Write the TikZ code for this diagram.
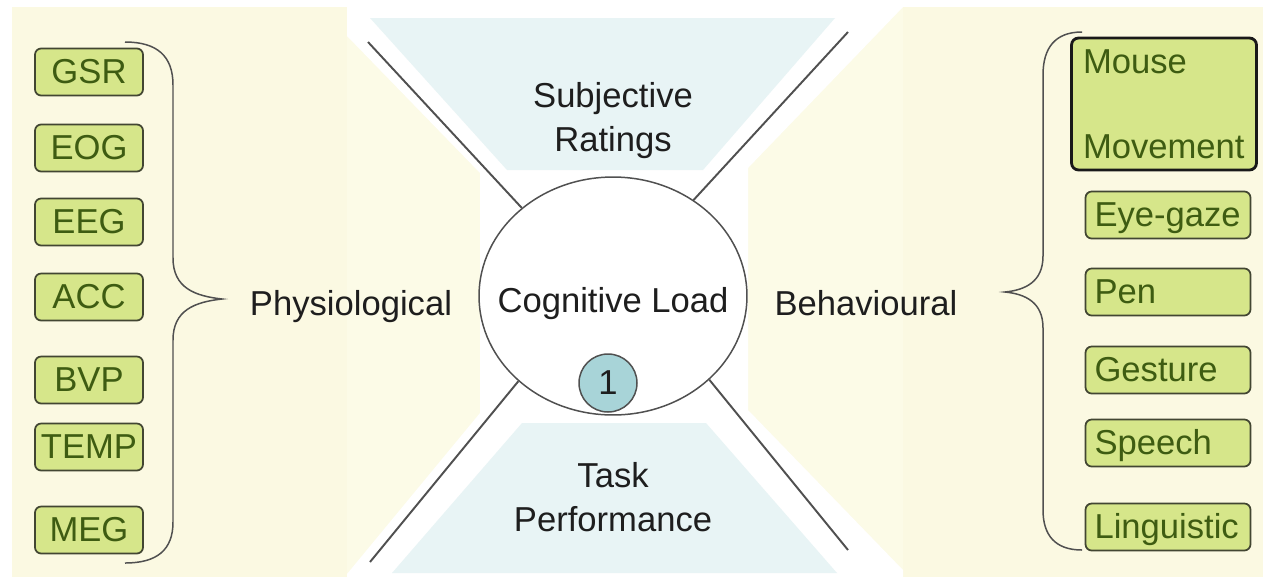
\documentclass[tikz,border=0pt]{standalone}
\usepackage{fontspec}
\setmainfont{Liberation Sans}
\usetikzlibrary{shapes.geometric}

\definecolor{creamout}{RGB}{251,249,226}
\definecolor{creamin}{RGB}{252,251,231}
\definecolor{paleblue}{RGB}{232,244,245}
\definecolor{badgeblue}{RGB}{168,212,216}
\definecolor{boxfill}{RGB}{214,230,138}
\definecolor{boxline}{RGB}{66,70,50}
\definecolor{boxtext}{RGB}{62,92,18}
\definecolor{ink}{RGB}{30,30,30}
\definecolor{rule}{RGB}{80,80,80}

\begin{document}
\begin{tikzpicture}[x=0.02cm, y=-0.02cm,
  every node/.style={font=\fontsize{19.7}{25}\selectfont, text=ink},
  sensor/.style={draw=boxline, fill=boxfill, text=boxtext, line width=1pt,
    rounded corners=3.5pt, inner sep=0pt, minimum height=0.94cm,
    text height=0.58cm, text depth=0.12cm},
  leftbox/.style={sensor, minimum width=2.16cm},
  rightbox/.style={sensor, align=left, text width=2.94cm, inner xsep=0.18cm},
  mousebox/.style={draw=black!90, fill=boxfill, text=boxtext, line width=1.6pt,
    rounded corners=4pt, align=left, minimum width=3.7cm, minimum height=2.64cm,
    text width=3.24cm, inner xsep=0.23cm},
  spoke/.style={draw=rule, line width=1.1pt},
  brace/.style={draw=rule, line width=0.85pt}]
  \useasboundingbox (0,0) rectangle (1263,582);

  \fill[creamout] (12,7) rectangle (1263,577);
  \fill[creamin] (347,7) rectangle (903,577);
  \fill[white] (347,0) -- (903,0) -- (903,7) -- (748,168) -- (748,410) -- (903,570)
    -- (903,582) -- (347,582) -- (347,574) -- (480,413) -- (480,173) -- (347,36) -- cycle;
  \fill[paleblue] (370,18) -- (835,18) -- (703,170) -- (507,170) -- cycle;
  \fill[paleblue] (522,423) -- (706,423) -- (837,573) -- (392,573) -- cycle;

  \node (subj) at (613,121) [align=center] {Subjective\\Ratings};
  \node (task) at (613,497) [align=center] {Task\\Performance};

  \node[draw=rule, fill=white, line width=0.85pt, ellipse, inner sep=0pt,
    minimum width=5.36cm, minimum height=4.76cm] (load) at (613,296) {};
  \node[anchor=base] (loadtext) at (613,312) {Cognitive Load};
  \node[draw=rule, fill=badgeblue, line width=0.85pt, circle, inner sep=0pt,
    minimum size=1.16cm] (num) at (608,383) {1};

  \coordinate (tl) at (368,42);
  \coordinate (tr) at (848,32);
  \coordinate (bl) at (370,562);
  \coordinate (br) at (848,550);
  \draw[spoke] (tl) -- (load.136);
  \draw[spoke] (tr) -- (load.50);
  \draw[spoke] (bl) -- (load.222);
  \draw[spoke] (br) -- (load.-41);

  \node[anchor=base] (phys) at (351,315) {Physiological};
  \node[anchor=base] (behav) at (866,315) {Behavioural};

  \foreach \name/\y in {GSR/72, EOG/148, EEG/222, ACC/297, BVP/380, TEMP/447, MEG/530}
    \node[leftbox] (\name) at (89,\y) {\name};

  \node[mousebox] (mouse) at (1164,104) {Mouse\\[23.4pt]Movement};
  \foreach \name/\label/\y in {gaze/Eye-gaze/215, pen/Pen/292, gesture/Gesture/370,
      speech/Speech/443, ling/Linguistic/527}
    \node[rightbox] (\name) at (1168,\y) {\label};

  \draw[brace] (125,42) .. controls (157,42) and (173,56) .. (173,85) -- (173,258)
    .. controls (173,288) and (195,296) .. (222,299)
    .. controls (195,302) and (173,310) .. (173,340) -- (173,522)
    .. controls (173,550) and (157,563) .. (125,563);
  \draw[brace] (1082,32) .. controls (1055,32) and (1043,48) .. (1043,75) -- (1043,256)
    .. controls (1043,282) and (1025,290) .. (1005,292)
    .. controls (1025,294) and (1043,302) .. (1043,328) -- (1043,510)
    .. controls (1043,535) and (1055,550) .. (1082,550);
\end{tikzpicture}
\end{document}
